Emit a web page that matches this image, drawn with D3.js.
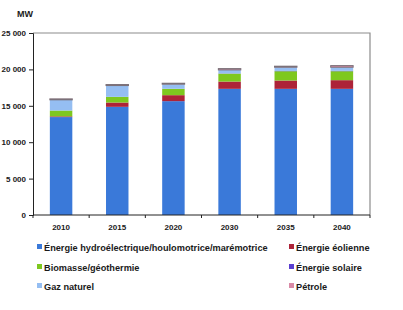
<!DOCTYPE html>
<html>
<head>
<meta charset="utf-8">
<script src="https://cdn.jsdelivr.net/npm/d3@7"></script>
<style>
  body { margin: 0; background: #fff; }
  text { font-family: "Liberation Sans", Arial, sans-serif; font-weight: bold; fill: #1a1a1a; }
</style>
</head>
<body>
<svg id="chart" width="403" height="310"></svg>
<script>
// data (MW)
const years = ["2010", "2015", "2020", "2030", "2035", "2040"];
const hydro = [13450, 14860, 15640, 17330, 17330, 17330];
const eolien = [100, 590, 820, 1000, 1140, 1190];
const biomasse = [800, 780, 870, 1090, 1280, 1230];
const solaire = [0, 0, 10, 30, 40, 50];
const gaz = [1470, 1550, 630, 480, 510, 500];
const petrole = [130, 140, 130, 180, 140, 220];
const yTicks = [0, 5000, 10000, 15000, 20000, 25000];

const series = [
  { key: "hydro", name: "Énergie hydroélectrique/houlomotrice/marémotrice", values: hydro, color: "#3a79d9" },
  { key: "eolien", name: "Énergie éolienne", values: eolien, color: "#ad2338" },
  { key: "biomasse", name: "Biomasse/géothermie", values: biomasse, color: "#7ec81f" },
  { key: "solaire", name: "Énergie solaire", values: solaire, color: "#5a3fd0" },
  { key: "gaz", name: "Gaz naturel", values: gaz, color: "#95bef2" },
  { key: "petrole", name: "Pétrole", values: petrole, color: "#d98aa6" }
];

const rows = years.map((y, i) => {
  const r = { year: y };
  series.forEach(s => r[s.key] = s.values[i]);
  return r;
});

const svg = d3.select("#chart");
const margin = { top: 33, right: 33, bottom: 95, left: 33 };
const width = 403, height = 310;

const x = d3.scaleBand()
  .domain(years)
  .range([margin.left, width - margin.right])
  .paddingInner(0.6)
  .paddingOuter(0.3);

const y = d3.scaleLinear()
  .domain([0, 25000])
  .range([height - margin.bottom, margin.top]);

const stack = d3.stack().keys(series.map(s => s.key));
const stacked = stack(rows);
const color = d3.scaleOrdinal(series.map(s => s.key), series.map(s => s.color));

// plot frame (top/right in grey)
svg.append("path")
  .attr("d", `M${margin.left},${margin.top}H${width - margin.right}V${height - margin.bottom}`)
  .attr("fill", "none")
  .attr("stroke", "#8c8c8c")
  .attr("stroke-width", 1.2);

svg.append("g")
  .selectAll("g")
  .data(stacked)
  .join("g")
  .attr("fill", d => color(d.key))
  .selectAll("rect")
  .data(d => d.map(v => Object.assign(v, { key: d.key })))
  .join("rect")
  .attr("x", d => x(d.data.year))
  .attr("width", x.bandwidth())
  .attr("y", d => y(d[1]))
  .attr("height", d => y(d[0]) - y(d[1]))
  .attr("stroke", d => d.key === "petrole" ? "#7a7078" : null)
  .attr("stroke-width", d => d.key === "petrole" ? 1 : null);

const fmt = d3.formatLocale({ decimal: ",", thousands: " ", grouping: [3], currency: ["", " €"] }).format(",d");

const yAxis = svg.append("g")
  .attr("transform", `translate(${margin.left},0)`)
  .call(d3.axisLeft(y).tickValues(yTicks).tickFormat(fmt).tickSize(4).tickPadding(3));
yAxis.select(".domain").attr("stroke", "#222");
yAxis.selectAll(".tick line").attr("stroke", "#222");
yAxis.selectAll("text").style("font-size", "8px").attr("fill", "#1a1a1a");

// x axis with ticks between categories
const bounds = d3.range(years.length + 1).map(i => margin.left + i * (width - margin.left - margin.right) / years.length);
const xAxis = svg.append("g");
xAxis.append("line")
  .attr("x1", margin.left).attr("x2", width - margin.right)
  .attr("y1", y(0)).attr("y2", y(0))
  .attr("stroke", "#222");
xAxis.selectAll("line.tk")
  .data(bounds)
  .join("line")
  .attr("class", "tk")
  .attr("x1", d => d).attr("x2", d => d)
  .attr("y1", y(0)).attr("y2", y(0) + 3)
  .attr("stroke", "#222");
xAxis.selectAll("text")
  .data(years)
  .join("text")
  .attr("x", d => x(d) + x.bandwidth() / 2)
  .attr("y", y(0) + 15)
  .attr("text-anchor", "middle")
  .style("font-size", "8px")
  .text(d => d);

svg.append("text")
  .attr("x", 17).attr("y", 17)
  .style("font-size", "9px")
  .text("MW");

// legend
const legendPos = [
  [37, 247], [289, 247],
  [37, 267], [289, 267],
  [37, 286], [289, 286]
];
const legend = svg.append("g")
  .selectAll("g")
  .data(series)
  .join("g")
  .attr("transform", (d, i) => `translate(${legendPos[i][0]},${legendPos[i][1]})`);
legend.append("rect")
  .attr("x", 0).attr("y", -3)
  .attr("width", 5).attr("height", 5)
  .attr("fill", d => d.color);
legend.append("text")
  .attr("x", 7).attr("y", 3.5)
  .style("font-size", "9.2px")
  .text(d => d.name);
</script>
</body>
</html>
